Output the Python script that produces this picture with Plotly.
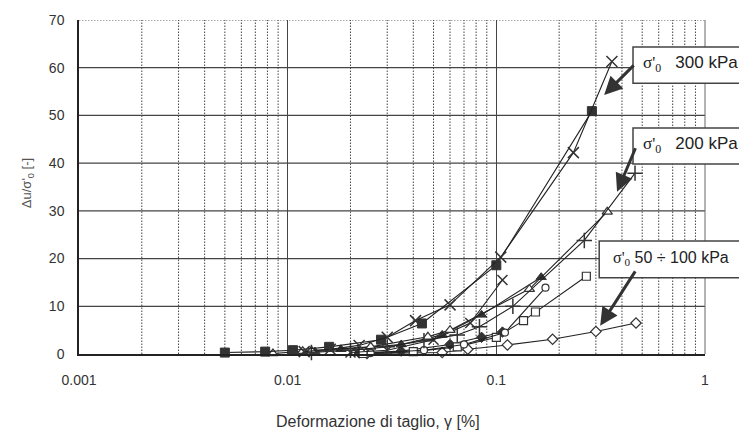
import math
import plotly.graph_objects as go

# ---- data: excess pore pressure ratio vs shear strain ----
# sigma'0 = 300 kPa
x300_cross = [0.012, 0.016, 0.022, 0.03, 0.041, 0.06, 0.105, 0.234, 0.358]
y300_cross = [0.5, 1.0, 1.8, 3.5, 7.0, 10.3, 20.3, 42.2, 61.3]
x300_sq = [0.005, 0.0078, 0.0106, 0.0158, 0.028, 0.044, 0.1, 0.287]
y300_sq = [0.3, 0.5, 0.8, 1.5, 3.0, 6.4, 18.6, 50.9]

# sigma'0 = 200 kPa
x200_plus = [0.013, 0.02, 0.03, 0.045, 0.065, 0.083, 0.12, 0.264, 0.462]
y200_plus = [0.3, 0.8, 1.5, 2.8, 4.0, 5.7, 10.0, 23.8, 37.9]
x200_tri = [0.0085, 0.0118, 0.013, 0.025, 0.047, 0.06, 0.144, 0.34]
y200_tri = [0.1, 0.6, 0.7, 1.5, 3.6, 5.0, 13.6, 29.8]
x200_x = [0.02, 0.03, 0.05, 0.075, 0.107]
y200_x = [0.3, 0.8, 3.0, 6.5, 15.5]
x200_tri_f = [0.0135, 0.018, 0.035, 0.055, 0.085, 0.164]
y200_tri_f = [0.5, 1.0, 2.0, 4.0, 8.2, 16.1]

# sigma'0 = 50 - 100 kPa
x100_circ = [0.025, 0.045, 0.07, 0.11, 0.172]
y100_circ = [0.2, 0.8, 2.0, 4.5, 13.9]
x100_sq = [0.023, 0.04, 0.065, 0.1, 0.135, 0.154, 0.27]
y100_sq = [0.1, 0.5, 1.5, 3.5, 7.0, 8.8, 16.3]
x100_dia_f = [0.022, 0.035, 0.06, 0.085, 0.107]
y100_dia_f = [0.2, 0.6, 2.0, 3.5, 4.6]
x100_dia = [0.024, 0.055, 0.073, 0.113, 0.186, 0.30, 0.467]
y100_dia = [0.1, 0.3, 1.0, 1.9, 3.1, 4.7, 6.5]

x_ticks = [0.001, 0.01, 0.1, 1]
x_tick_text = ["0.001", "0.01", "0.1", "1"]
y_ticks = [0, 10, 20, 30, 40, 50, 60, 70]

DARK = "#333333"
LINE = "#222222"
GRID = "#444444"

fig = go.Figure()


def add_series(xs, ys, symbol, filled, size=8, thin=False):
    if thin:
        marker = dict(symbol=symbol, size=size, color=DARK,
                      line=dict(color=DARK, width=1.5))
    elif filled:
        marker = dict(symbol=symbol, size=size, color=DARK,
                      line=dict(color=DARK, width=1))
    else:
        marker = dict(symbol=symbol, size=size, color="white",
                      line=dict(color=DARK, width=1.2))
    fig.add_trace(go.Scatter(x=xs, y=ys, mode="lines+markers",
                             line=dict(color=LINE, width=1.1),
                             marker=marker, showlegend=False,
                             cliponaxis=False))


add_series(x100_dia, y100_dia, "diamond", False, 8)
add_series(x100_dia_f, y100_dia_f, "diamond", True, 8)
add_series(x100_sq, y100_sq, "square", False, 8)
add_series(x100_circ, y100_circ, "circle", False, 7)
add_series(x200_tri_f, y200_tri_f, "triangle-up", True, 9)
add_series(x200_x, y200_x, "x-thin", True, 10, thin=True)
add_series(x200_tri, y200_tri, "triangle-up", False, 9)
add_series(x200_plus, y200_plus, "cross-thin", True, 11, thin=True)
add_series(x300_sq, y300_sq, "square", True, 9)
add_series(x300_cross, y300_cross, "x-thin", True, 11, thin=True)

shapes = []
# dotted minor gridlines on the log axis
for dec in [0.001, 0.01, 0.1]:
    for k in range(2, 10):
        shapes.append(dict(type="line", xref="x", yref="paper",
                           x0=k * dec, x1=k * dec, y0=0, y1=1,
                           line=dict(color="#444444", width=1,
                                     dash="1.5px,1.5px"),
                           layer="below"))
# horizontal gridlines; the top one dotted
for v in y_ticks[1:]:
    shapes.append(dict(type="line", xref="paper", yref="y", x0=0, x1=1,
                       y0=v, y1=v,
                       line=dict(color=GRID if v < 70 else "#555555",
                                 width=1.3 if v < 70 else 1,
                                 dash="solid" if v < 70 else "1.5px,1.5px"),
                       layer="below"))
# right border
shapes.append(dict(type="line", xref="paper", yref="paper", x0=1, x1=1,
                   y0=0, y1=1, line=dict(color="#666666", width=1)))

# label boxes
boxes = [
    (0.885, 0.811, 1.10, 0.919),
    (0.885, 0.569, 1.10, 0.677),
    (0.831, 0.228, 1.10, 0.338),
]
for x0, y0, x1, y1 in boxes:
    shapes.append(dict(type="rect", xref="paper", yref="paper",
                       x0=x0, x1=x1, y0=y0, y1=y1,
                       line=dict(color="#444444", width=1.5),
                       fillcolor="white", layer="above"))

fig.update_layout(shapes=shapes)

annotations = []
# arrows pointing from label boxes to the curves (log axis -> log10 x)
arrows = [
    (0.3287, 54.3, 31, -31),
    (0.379, 34.0, 19, -45),
    (0.3146, 5.9, 36, -56),
]
for ax_x, ax_y, dx, dy in arrows:
    annotations.append(dict(x=math.log10(ax_x), y=ax_y, xref="x", yref="y",
                            ax=dx, ay=dy, text="", showarrow=True,
                            arrowhead=2, arrowsize=1.2, arrowwidth=3,
                            arrowcolor="#333333"))

sig = "<span style='font-family:Liberation Serif'>σ'<sub>0</sub></span>"
labels = [
    (0.898, 0.868, sig + "   300 kPa", 17),
    (0.898, 0.626, sig + "   200 kPa", 17),
    (0.850, 0.286, sig + " 50 ÷ 100 kPa", 16),
]
for lx, ly, txt, fs in labels:
    annotations.append(dict(x=lx, y=ly, xref="paper", yref="paper",
                            text=txt, showarrow=False, xanchor="left",
                            yanchor="middle",
                            font=dict(family="Liberation Sans", size=fs,
                                      color="#222222")))

annotations.append(dict(x=(378 - 79) / 626, y=-0.17, xref="paper",
                        yref="paper", text="Deformazione di taglio, γ [%]",
                        showarrow=False, yanchor="top",
                        font=dict(family="Liberation Sans", size=16,
                                  color="#333333")))
annotations.append(dict(x=(17 - 79) / 626, y=0.51, xref="paper", yref="paper",
                        text="Δu/σ'<sub>0</sub> [-]", showarrow=False,
                        textangle=-90,
                        font=dict(family="Liberation Sans", size=13,
                                  color="#555555")))
fig.update_layout(annotations=annotations)

fig.update_xaxes(type="log", range=[-3, 0], tickvals=x_ticks,
                 ticktext=x_tick_text, showgrid=True, gridcolor=GRID,
                 gridwidth=1, showline=True, linecolor="#222222", linewidth=1.5,
                 ticks="", ticklabelstandoff=12,
                 tickfont=dict(family="Liberation Sans", size=14, color="#333333"),
                 zeroline=False)
fig.update_yaxes(range=[0, 70], tickvals=y_ticks, showgrid=False,
                 showline=True, linecolor="#222222", linewidth=1.5, ticks="",
                 ticklabelstandoff=10, zeroline=False,
                 tickfont=dict(family="Liberation Sans", size=14, color="#333333"))

fig.update_layout(width=739, height=434,
                  margin=dict(l=79, r=34, t=20, b=80),
                  plot_bgcolor="white", paper_bgcolor="white",
                  font=dict(family="Liberation Sans"))

fig.write_html("out.html")
